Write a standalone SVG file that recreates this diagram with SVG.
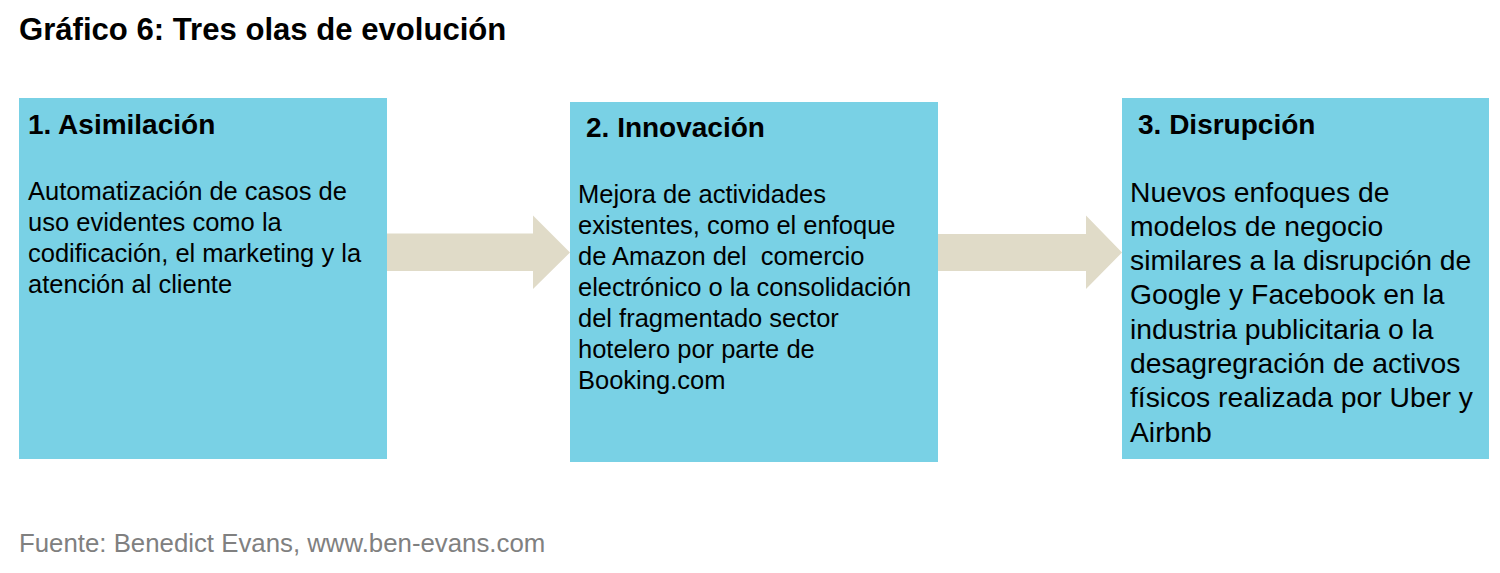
<svg xmlns="http://www.w3.org/2000/svg" width="1500" height="573" viewBox="0 0 1500 573">
<style>
.box{fill:#79D1E5}
.arr{fill:#E0DBC8}
.t{font-family:"Liberation Sans",Arial,sans-serif;fill:#000}
.title{font-size:31.1px;font-weight:bold}
.hd{font-size:28px;font-weight:bold}
.b1{font-size:25.5px}
.b3{font-size:28.3px}
.src{font-family:"Liberation Sans",Arial,sans-serif;font-size:25.8px;fill:#808080}
</style>
<rect width="1500" height="573" fill="#fff"/>
<text class="t title" x="19" y="40">Gráfico 6: Tres olas de evolución</text>
<g id="connectors">
<polygon class="arr" points="387,233.5 533,233.5 533,215.5 570,252.5 533,289 533,271 387,271"/>
<polygon class="arr" points="938,234 1086,234 1086,215.5 1122,252.5 1086,289 1086,271 938,271"/>
</g>
<g id="node1">
<rect class="box" x="19" y="98" width="368" height="361"/>
<text class="t hd" x="28" y="134">1. Asimilación</text>
<text class="t b1" x="28" y="200">Automatización de casos de</text>
<text class="t b1" x="28" y="231">uso evidentes como la</text>
<text class="t b1" x="28" y="262">codificación, el marketing y la</text>
<text class="t b1" x="28" y="293">atención al cliente</text>
</g>
<g id="node2">
<rect class="box" x="570" y="102" width="368" height="360"/>
<text class="t hd" x="586" y="137">2. Innovación</text>
<text class="t b1" x="578" y="203">Mejora de actividades</text>
<text class="t b1" x="578" y="234">existentes, como el enfoque</text>
<text class="t b1" x="578" y="265" xml:space="preserve" style="white-space:pre">de Amazon del  comercio</text>
<text class="t b1" x="578" y="296">electrónico o la consolidación</text>
<text class="t b1" x="578" y="327">del fragmentado sector</text>
<text class="t b1" x="578" y="358">hotelero por parte de</text>
<text class="t b1" x="578" y="389">Booking.com</text>
</g>
<g id="node3">
<rect class="box" x="1122" y="98" width="367" height="361"/>
<text class="t hd" x="1138" y="134">3. Disrupción</text>
<text class="t b3" x="1130" y="201.5">Nuevos enfoques de</text>
<text class="t b3" x="1130" y="235.8">modelos de negocio</text>
<text class="t b3" x="1130" y="270.1">similares a la disrupción de</text>
<text class="t b3" x="1130" y="304.4">Google y Facebook en la</text>
<text class="t b3" x="1130" y="338.7">industria publicitaria o la</text>
<text class="t b3" x="1130" y="373">desagregración de activos</text>
<text class="t b3" x="1130" y="407.3">físicos realizada por Uber y</text>
<text class="t b3" x="1130" y="441.6">Airbnb</text>
</g>
<text class="src" x="19" y="552">Fuente: Benedict Evans, www.ben-evans.com</text>
</svg>
